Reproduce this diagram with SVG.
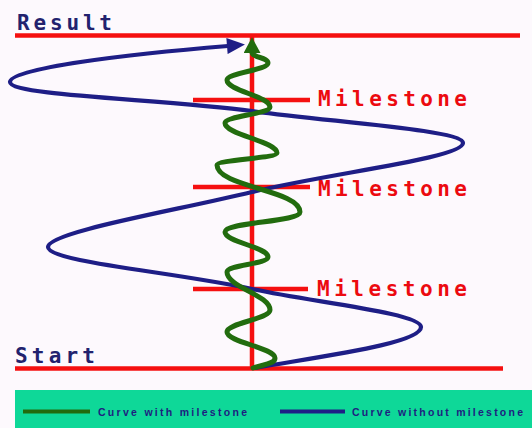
<svg xmlns="http://www.w3.org/2000/svg" width="532" height="428" viewBox="0 0 532 428">
<style>
.red{stroke:#f51010;stroke-width:4.5;fill:none}
.blue{stroke:#1e1e86;stroke-width:4.2;fill:none;stroke-linecap:round}
.green{stroke:#226c0e;stroke-width:5;fill:none;stroke-linecap:round}
.lbl{font-family:"DejaVu Sans Mono","Liberation Mono",monospace;font-weight:bold;font-size:21px}
.ms{fill:#ec0a10}
.nv{fill:#22226e}
.leg{font-family:"Liberation Sans",Arial,sans-serif;font-weight:bold;font-size:10.5px;fill:#1e1e80}
</style>
<defs>
<marker id="ab" markerUnits="userSpaceOnUse" markerWidth="20" markerHeight="16" viewBox="0 0 18 16" refX="1" refY="8" orient="auto"><path d="M0,0 L18,8 L0,16 z" fill="#1e1e86"/></marker>
<marker id="ag" markerUnits="userSpaceOnUse" markerWidth="17" markerHeight="17" viewBox="0 0 15 16" refX="1" refY="8" orient="auto"><path d="M0,0 L15,8 L0,16 z" fill="#226c0e"/></marker>
</defs>
<rect width="532" height="428" fill="#fdf9fd"/>
<g id="axes">
<line class="red" x1="15" y1="35.5" x2="520" y2="35.5"/>
<line class="red" x1="15" y1="368.5" x2="503" y2="368.5"/>
<line class="red" x1="252" y1="36" x2="252" y2="368" stroke-width="5"/>
</g>
<g id="result"><text class="lbl nv" x="17" y="30" textLength="95" lengthAdjust="spacing">Result</text></g>
<g id="start"><text class="lbl nv" x="15" y="363" textLength="80" lengthAdjust="spacing">Start</text></g>
<g id="milestone1">
<line class="red" x1="193" y1="100" x2="310" y2="100"/>
<text class="lbl ms" x="318" y="106" textLength="149" lengthAdjust="spacing">Milestone</text>
</g>
<g id="milestone2">
<line class="red" x1="193" y1="187" x2="310" y2="187"/>
<text class="lbl ms" x="318" y="196" textLength="149" lengthAdjust="spacing">Milestone</text>
</g>
<g id="milestone3">
<line class="red" x1="193" y1="289" x2="308" y2="289"/>
<text class="lbl ms" x="317" y="296" textLength="150" lengthAdjust="spacing">Milestone</text>
</g>
<g id="connectors">
<path class="blue" marker-end="url(#ab)" d="M255,368 C330,355 421,343 421,327 C421,313 311,302 252,289 C174,272 48,262 48,247 C48,232 174,211 252,192 C330,173 463,158 463,143 C463,130 331,122 252,111 C163,99 10,96 10,82 C10,68 130,54 228,46"/>
<path class="green" marker-end="url(#ag)" d="M253,368 C265,364 275,364 275,358 C275,348 227,342 227,332 C227,323 270,319 270,310 C270,295 227,287 227,272 C227,265 268,264 268,257 C268,247 225,242 225,232 C225,222 300,222 300,212 C300,190 217,187 217,165 C217,160 277,158 277,153 C277,141 225,135 225,123 C225,116 270,114 270,107 C270,96 227,91 227,80 C227,73 268,70 268,63 C268,57 252,58 252,52"/>
</g>
<g id="legend">
<rect x="15" y="390" width="517" height="38" fill="#0ed898"/>
<line x1="23" y1="411.5" x2="90" y2="411.5" stroke="#226c0e" stroke-width="4"/>
<text class="leg" x="98" y="415.5" textLength="149" lengthAdjust="spacing">Curve with milestone</text>
<line x1="280" y1="411.5" x2="345" y2="411.5" stroke="#1e1e86" stroke-width="4"/>
<text class="leg" x="352" y="415.5" textLength="171" lengthAdjust="spacing">Curve without milestone</text>
</g>
</svg>
